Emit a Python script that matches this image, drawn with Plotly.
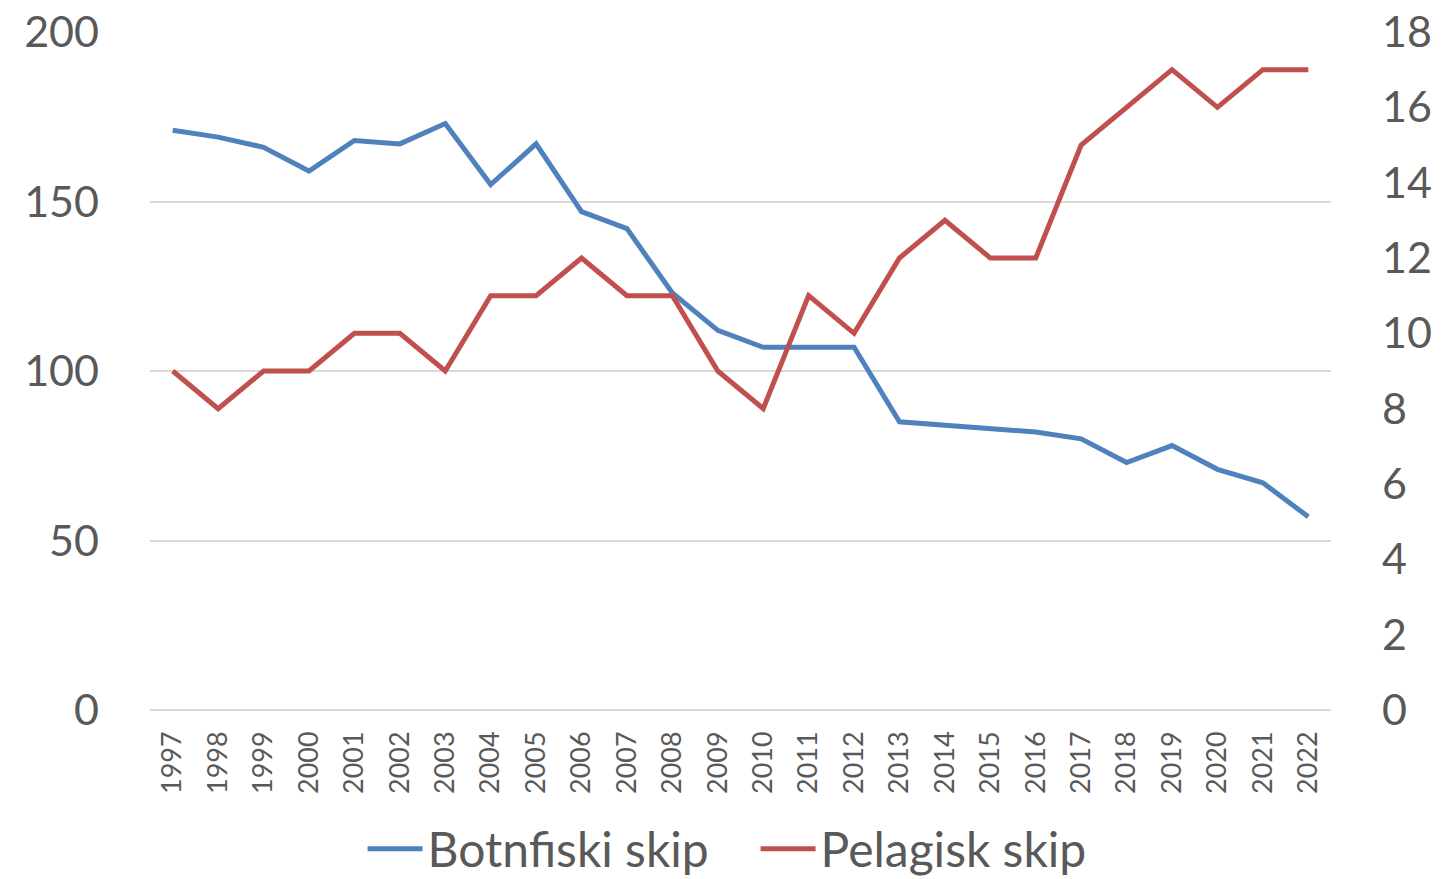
import plotly.graph_objects as go

years = [str(y) for y in range(1997, 2023)]
botnfiski = [171, 169, 166, 159, 168, 167, 173, 155, 167, 147, 142, 123, 112, 107, 107, 107,
             85, 84, 83, 82, 80, 73, 78, 71, 67, 57]
pelagisk = [9, 8, 9, 9, 10, 10, 9, 11, 11, 12, 11, 11, 9, 8, 11, 10,
            12, 13, 12, 12, 15, 16, 17, 16, 17, 17]

FONT = "Lato"
GREY = "#595959"

fig = go.Figure()
fig.add_trace(go.Scatter(x=years, y=botnfiski, name="Botnfiski skip", mode="lines",
                         line=dict(color="#4F81BD", width=5), yaxis="y"))
fig.add_trace(go.Scatter(x=years, y=pelagisk, name="Pelagisk skip", mode="lines",
                         line=dict(color="#C0504D", width=5), yaxis="y2"))

fig.update_layout(
    width=1442, height=879,
    margin=dict(l=150, r=111, t=32, b=169, autoexpand=False),
    paper_bgcolor="white", plot_bgcolor="white",
    font=dict(family=FONT, color=GREY),
    showlegend=True,
    legend=dict(orientation="h", x=0.18, xanchor="left", y=-0.149, yanchor="top",
                font=dict(size=48, color=GREY), itemwidth=55, tracegroupgap=0,
                entrywidth=323, entrywidthmode="pixels"),
    xaxis=dict(type="category", range=[-0.5, 25.5], tickangle=-90,
               tickfont=dict(size=27, color=GREY),
               showgrid=False, showline=False, ticks="", ticklabelstandoff=15,
               automargin=False),
    yaxis=dict(range=[0, 200], dtick=50, tickfont=dict(size=43, color=GREY),
               showgrid=True, gridcolor="#D9D9D9", gridwidth=2,
               zeroline=True, zerolinecolor="#D9D9D9", zerolinewidth=2,
               showline=False, ticks="", ticklabelstandoff=50, automargin=False,
               ticklabeloverflow="allow"),
    yaxis2=dict(range=[0, 18], dtick=2, overlaying="y", side="right",
                tickfont=dict(size=43, color=GREY), showgrid=False, zeroline=False,
                showline=False, ticks="", ticklabelstandoff=50, automargin=False,
                ticklabeloverflow="allow"),
)

fig.write_html("out.html",
               config={"displayModeBar": False},
               post_script="document.body.style.margin='0';document.documentElement.style.overflow='hidden';")
